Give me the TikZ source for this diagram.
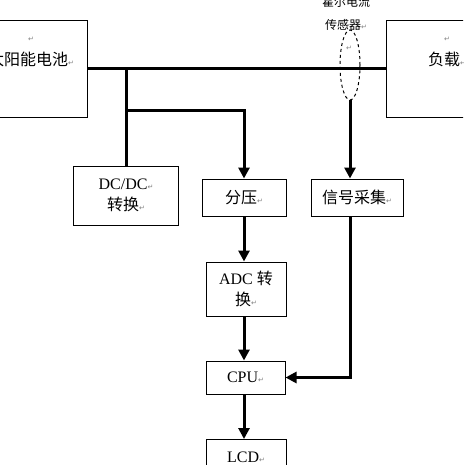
\documentclass[tikz,border=0pt]{standalone}
\usepackage{fontspec}
\setmainfont{Liberation Serif}
\newfontfamily\cjk{Noto Sans CJK SC}
\newfontfamily\dvs{DejaVu Sans}
\usetikzlibrary{arrows.meta,shapes.geometric}
\newcommand{\rt}{{\dvs\color{gray}\fontsize{7}{7}\selectfont ↵}}
\begin{document}
\begin{tikzpicture}[x=1pt,y=-1pt,
  box/.style={draw,line width=1pt,inner sep=0pt,align=center,font=\fontsize{16}{21}\selectfont},
  txt/.style={inner sep=0pt,align=center,font=\fontsize{16}{21}\selectfont},
  wire/.style={line width=3pt},
  arr/.style={line width=3pt,-{Triangle[length=11pt,width=11pt]}}]
\clip (0,0) rectangle (463,465);
\fill[white] (0,0) rectangle (463,465);
\node[box,minimum width=112pt,minimum height=97pt] (solar) at (31,69) {};
\node[txt] (solarrt) at (31,39) {\rt};
\node[txt] (solartxt) at (31,59) {{\cjk 太阳能电池}\rt};
\node[box,minimum width=122pt,minimum height=97pt] (load) at (447,69) {};
\node[txt] (loadrt) at (447,39) {\rt};
\node[txt] (loadtxt) at (447,59) {{\cjk 负载}\rt};
\node[draw,dashed,line width=1pt,ellipse,minimum width=20pt,minimum height=70pt,inner sep=0pt] (hall) at (350,65) {};
\node[inner sep=0pt,align=center,font=\fontsize{12}{23}\selectfont] (halltxt) at (346,13) {\cjk 霍尔电流\\\cjk 传感器\rt};
\node[inner sep=0pt] (hallrt) at (349,48) {\rt};
\node[box,minimum width=105pt,minimum height=59pt] (dcdc) at (126,195.5) {DC/DC\rt\\{\cjk 转换}\rt};
\node[box,minimum width=84pt,minimum height=37pt] (fenya) at (244,197.5) {{\cjk 分压}\rt};
\node[box,minimum width=92pt,minimum height=37pt] (sig) at (357,197.5) {{\cjk 信号采集}\rt};
\node[box,minimum width=80pt,minimum height=54pt] (adc) at (246,289) {ADC {\cjk 转}\\{\cjk 换}\rt};
\node[box,minimum width=79pt,minimum height=33pt] (cpu) at (245.5,377.5) {CPU\rt};
\node[box,minimum width=80pt,minimum height=36pt,anchor=north] (lcd) at (246,439) {LCD\rt};
\coordinate (j1) at (126,69);
\coordinate (j2) at (126,111);
\draw[wire] (solar.east) -- (load.west);
\draw[wire] (j1) -- (dcdc.north);
\draw[arr] (j2) -| (fenya.north);
\draw[arr] (hall.south) -- (hall.south |- sig.north);
\draw[arr] (fenya.south) -- (fenya.south |- adc.north);
\draw[arr] (fenya.south |- adc.south) -- (fenya.south |- cpu.north);
\draw[arr] (fenya.south |- cpu.south) -- (fenya.south |- lcd.north);
\draw[arr] (hall.south |- sig.south) |- (cpu.east);
\end{tikzpicture}
\end{document}
